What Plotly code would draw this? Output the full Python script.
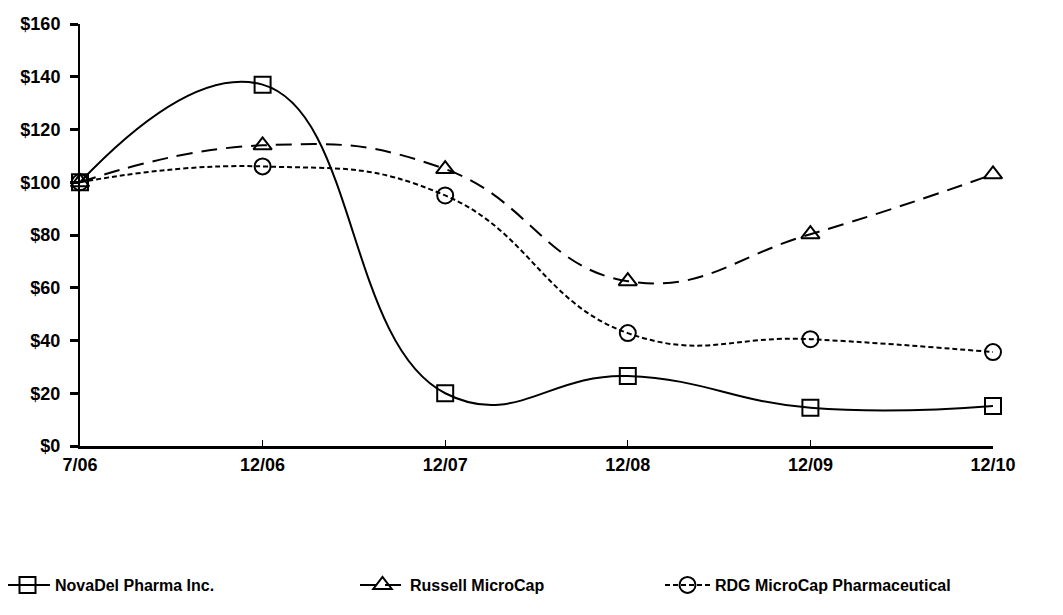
import plotly.graph_objects as go

categories = ["7/06", "12/06", "12/07", "12/08", "12/09", "12/10"]
novadel = [100, 137, 20, 26.5, 14.5, 15.2]
russell = [100, 114, 105, 62.5, 80.3, 103]
rdg = [100, 106, 95, 42.8, 40.5, 35.6]
y_ticks = [0, 20, 40, 60, 80, 100, 120, 140, 160]
y_labels = ["$" + str(v) for v in y_ticks]

xs = list(range(len(categories)))
fig = go.Figure()

series = [
    ("NovaDel Pharma Inc.", novadel, "solid", "square-open", "legend"),
    ("Russell MicroCap", russell, "16px,9px", "triangle-up-open", "legend2"),
    ("RDG MicroCap Pharmaceutical", rdg, "5px,3px", "circle-open", "legend3"),
]
for name, vals, dash, sym, leg in series:
    fig.add_trace(go.Scatter(
        x=xs, y=vals, name=name, mode="lines+markers",
        line=dict(color="black", width=2, dash=dash, shape="spline", smoothing=1.3),
        marker=dict(symbol=sym, size=16, color="black", line=dict(width=2, color="black")),
        cliponaxis=False, legend=leg,
    ))

font_tick = dict(family="Liberation Sans", size=18, color="black", weight="bold")
font_leg = dict(family="Liberation Sans", size=16, color="black", weight="bold")

# page body has an 8px offset; plot area target: x 80..993, y 24..446 in the window
L, T, W, H = 72, 16, 913, 422

def px2x(p):
    return (p - 8 - L) / float(W)

leg_y = (T + H + 8 - 585) / float(H)

leg_common = dict(y=leg_y, xanchor="left", yanchor="middle", itemwidth=45,
                  font=font_leg, bgcolor="rgba(0,0,0,0)")

fig.update_layout(
    width=1063, height=615,
    margin=dict(l=L, r=1063 - L - W, t=T, b=615 - T - H, autoexpand=False),
    paper_bgcolor="white", plot_bgcolor="white",
    xaxis=dict(
        range=[0, 5], tickmode="array", tickvals=xs, ticktext=categories,
        showgrid=False, zeroline=False, showline=True, linecolor="black", linewidth=3,
        ticks="inside", ticklen=6, tickwidth=1, tickcolor="black", tickfont=font_tick,
        automargin=False,
    ),
    yaxis=dict(
        range=[0, 160], tickmode="array", tickvals=y_ticks, ticktext=y_labels,
        showgrid=False, zeroline=False, showline=True, linecolor="black", linewidth=2,
        ticks="outside", ticklen=8, tickwidth=3, tickcolor="black", tickfont=font_tick,
        ticklabelstandoff=6, automargin=False,
    ),
    legend=dict(x=px2x(0), **leg_common),
    legend2=dict(x=px2x(355), **leg_common),
    legend3=dict(x=px2x(660), **leg_common),
    showlegend=True,
)

fig.write_html("out.html")
